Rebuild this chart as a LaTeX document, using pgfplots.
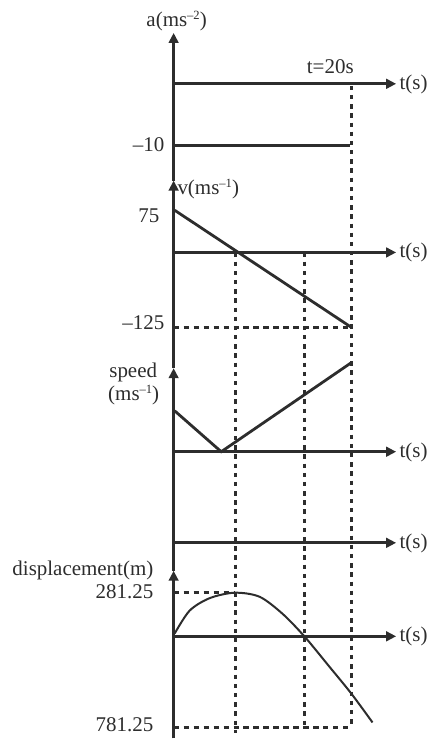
\documentclass[border=0pt]{standalone}
\usepackage{pgfplots}
\pgfplotsset{compat=1.18}
\usepackage{fontspec}
\setmainfont{Liberation Serif}
\usetikzlibrary{arrows.meta}
\definecolor{ink}{RGB}{45,45,45}
\newcommand{\supx}[1]{\raisebox{0.75ex}{\fontsize{6.3}{7}\selectfont #1}}
\begin{document}
\begin{tikzpicture}[font=\fontsize{10.5}{12.6}\selectfont, text=ink]
\begin{axis}[width=215.5pt,height=370pt,scale only axis,
  xmin=0,xmax=431,ymin=-740,ymax=0,hide axis,clip=false,
  ax/.style={ink,line width=1.6pt,-{Triangle[length=5pt,width=4.8pt]}},
  vd/.style={ink,line width=1.4pt,dash pattern=on 2.2pt off 2.4pt},
  hd/.style={ink,line width=1.3pt,dash pattern=on 2.6pt off 2.4pt}]
\addplot[draw=none] coordinates {(0,0) (431,-740)};
% dashed guides
\addplot[vd] coordinates {(352,-86) (352,-729)};
\addplot[vd] coordinates {(236,-253) (236,-735)};
\addplot[vd] coordinates {(305.5,-253) (305.5,-729)};
\addplot[hd] coordinates {(174,-328) (352,-328)};
\addplot[hd] coordinates {(174,-594) (236,-594)};
\addplot[hd] coordinates {(174,-729) (352,-729)};
% vertical axis with arrowheads
\addplot[ax] coordinates {(174,-740) (174,-572)};
\addplot[ax] coordinates {(174,-572) (174,-369)};
\addplot[ax] coordinates {(174,-369) (174,-181)};
\addplot[ax] coordinates {(174,-181) (174,-33)};
% time axes
\addplot[ax] coordinates {(174,-84) (397,-84)};
\addplot[ax] coordinates {(174,-253) (397,-253)};
\addplot[ax] coordinates {(174,-452.7) (397,-452.7)};
\addplot[ax] coordinates {(174,-544) (397,-544)};
\addplot[ax] coordinates {(174,-637.7) (397,-637.7)};
% a = -10
\addplot[ink,line width=1.6pt] coordinates {(174,-145.7) (351,-145.7)};
% velocity
\addplot[ink,line width=1.4pt] coordinates {(175,-210.7) (352,-328)};
% speed
\addplot[ink,line width=1.4pt] coordinates {(175,-411.7) (221.7,-452.7) (352.3,-363.3)};
% displacement
\addplot[ink,line width=1pt,smooth] coordinates {
(175,-635) (190,-612) (210,-599.5) (235,-594) (260,-598) (283,-615)
(305,-637.7) (330,-668) (352,-695) (373.3,-724)};
% labels
\node[anchor=base] at (axis cs:177,-27) {a(ms\supx{–2})};
\node[anchor=base] at (axis cs:331,-74) {t=20s};
\node[anchor=base west,inner sep=0pt] at (axis cs:400,-89.3) {t(s)};
\node[anchor=base west,inner sep=0pt] at (axis cs:400,-258.3) {t(s)};
\node[anchor=base west,inner sep=0pt] at (axis cs:400,-458) {t(s)};
\node[anchor=base west,inner sep=0pt] at (axis cs:400,-549.3) {t(s)};
\node[anchor=base west,inner sep=0pt] at (axis cs:400,-643) {t(s)};
\node[anchor=base east,inner sep=0pt] at (axis cs:165,-151.7) {–10};
\node[anchor=base west,inner sep=0pt] at (axis cs:177.5,-195) {v(ms\supx{–1})};
\node[anchor=base east,inner sep=0pt] at (axis cs:160,-223.3) {75};
\node[anchor=base east,inner sep=0pt] at (axis cs:165,-330.5) {–125};
\node[anchor=base,inner sep=0pt] at (axis cs:133.5,-378) {speed};
\node[anchor=base,inner sep=0pt] at (axis cs:134,-401.7) {(ms\supx{–1})};
\node[anchor=base east,inner sep=0pt] at (axis cs:154,-577) {displacement(m)};
\node[anchor=base east,inner sep=0pt] at (axis cs:154,-600) {281.25};
\node[anchor=base east,inner sep=0pt] at (axis cs:154,-733) {781.25};
\end{axis}
\end{tikzpicture}
\end{document}
